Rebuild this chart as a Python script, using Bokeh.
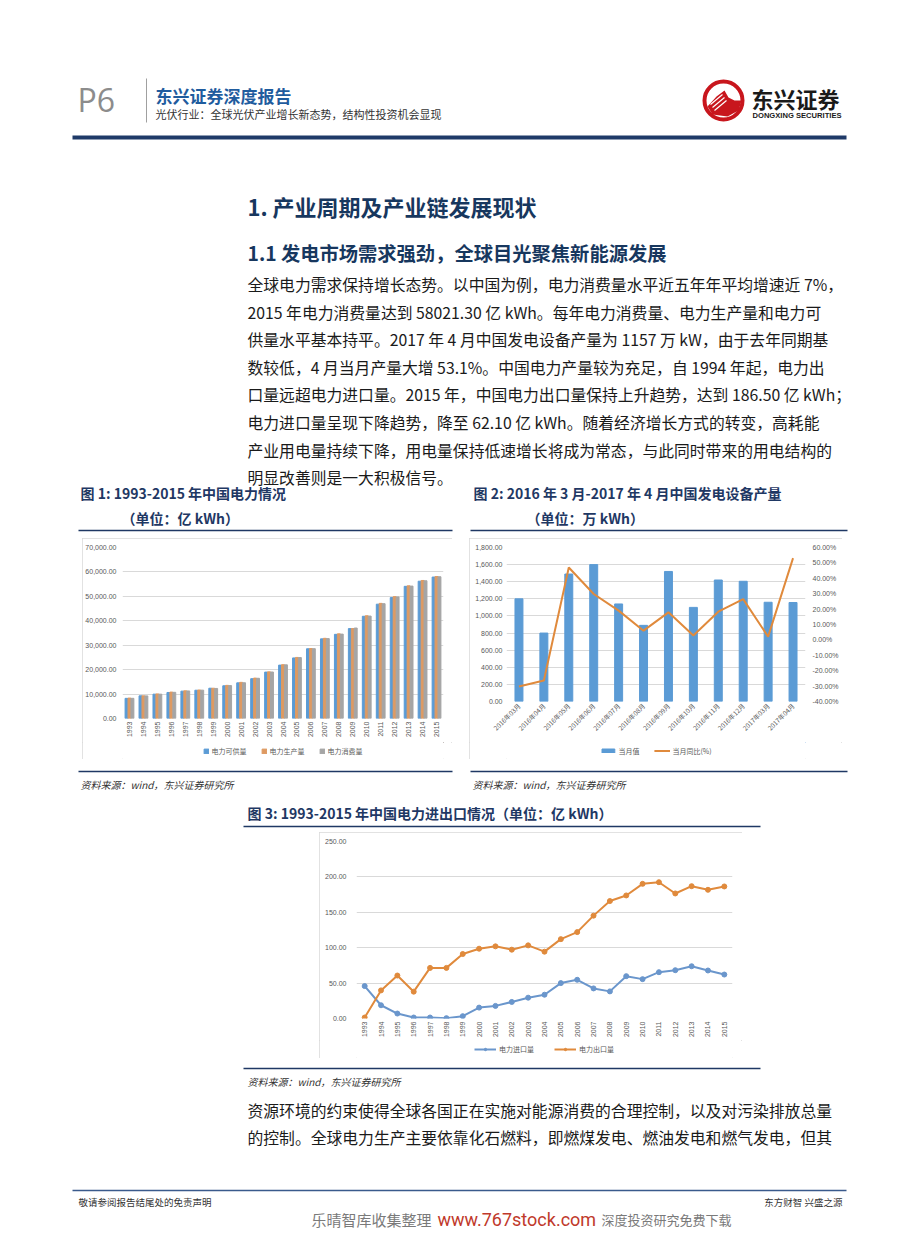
import math
from bokeh.plotting import figure
from bokeh.models import (Range1d, FactorRange, LinearAxis, NumeralTickFormatter,
                          PrintfTickFormatter, Legend, LegendItem, Spacer, FixedTicker,
                          ColumnDataSource)
from bokeh.layouts import column, row
from bokeh.transform import dodge
from bokeh.core.properties import value
from bokeh.embed import file_html
from bokeh.resources import INLINE

CJK = "Noto Sans CJK SC"
NUM = "Liberation Sans"

# ---------------- data ----------------
years = [str(y) for y in range(1993, 2016)]
supply = [8250, 9280, 9960, 10650, 11200, 11580, 12400, 13400, 14600, 16300, 19000, 21850,
          24800, 28550, 32600, 34450, 36800, 41850, 46800, 49500, 54100, 56200, 57900]
production = [8364, 9280, 10070, 10810, 11340, 11670, 12390, 13560, 14800, 16540, 19100, 22030,
              25000, 28650, 32820, 34670, 36810, 42070, 47130, 49880, 54320, 56500, 58110]
consumption = [8260, 9250, 9960, 10720, 11280, 11600, 12300, 13470, 14630, 16470, 19030, 21970,
               24940, 28590, 32710, 34540, 37030, 41930, 47000, 49760, 54200, 56380, 58021.3]
series1_names = ["电力可供量", "电力生产量", "电力消费量"]

months = ["2016年03月", "2016年04月", "2016年05月", "2016年06月", "2016年07月", "2016年08月",
          "2016年09月", "2016年10月", "2016年11月", "2016年12月", "2017年03月", "2017年04月"]
month_output = [1200, 800, 1490, 1600, 1140, 890, 1520, 1100, 1420, 1405, 1160, 1157]
month_yoy = [-30.3, -26.4, 47.0, 29.8, 19.0, 6.0, 17.9, 2.8, 18.3, 26.5, 2.1, 53.1]
series2_names = ["当月值", "当月同比(%)"]

imports = [45.8, 18.7, 7.0, 1.4, 1.4, 0.5, 3.3, 15.4, 17.8, 23.4, 29.4, 33.6, 50.0, 54.7,
           42.5, 38.3, 59.8, 55.6, 65.4, 68.2, 73.8, 67.8, 62.1]
exports = [1.4, 39.7, 60.7, 37.9, 71.5, 71.5, 91.1, 98.6, 101.9, 97.2, 103.3, 94.4, 112.1,
           122.0, 145.3, 165.9, 173.8, 190.2, 192.5, 176.6, 186.9, 181.8, 186.5]
series3_names = ["电力进口量", "电力出口量"]

BAR_BLUE = "#5B9BD5"
BLUE = "#6A96CC"
ORANGE = "#E08A3C"
BAR_ORANGE = "#DE9A62"
GRAY = "#A5A5A5"
NAVY = "#1F3864"
BORDER = {"outline": "1px solid #D9D9D9", "outline-offset": "-1px"}
PAGE_W = 912


# ---------------- helpers ----------------
def strip(y0, y1):
    p = figure(width=PAGE_W, height=int(y1 - y0), x_range=Range1d(0, PAGE_W),
               y_range=Range1d(y1, y0), output_backend="svg", toolbar_location=None,
               x_axis_location=None, y_axis_location=None, min_border=0)
    p.grid.grid_line_color = None
    p.outline_line_color = None
    return p


def txt(p, x, y, s, size, color="#222222", style="normal", align="left", font=CJK):
    p.text(x=[x], y=[y], text=[s], text_font=value(font), text_font_size=f"{size}px",
           text_color=color, text_align=align, text_baseline="middle", text_font_style=style)


def hline(p, x0, x1, y, color=NAVY, width=1.5):
    p.segment(x0=[x0], y0=[y], x1=[x1], y1=[y], line_color=color, line_width=width)


def style_axis(ax, size="7px", color="#595959", font=NUM, standoff=5):
    ax.axis_line_color = None
    ax.major_tick_line_color = None
    ax.minor_tick_line_color = None
    ax.major_tick_out = 0
    ax.major_tick_in = 0
    ax.major_label_text_font_size = size
    ax.major_label_text_color = color
    ax.major_label_text_font = font
    ax.major_label_standoff = standoff


def legend_fig(width, height, entries, gw=6, gh=6, spacing=14):
    # a strip holding only the legend; its sample glyphs sit outside the visible range
    lf = figure(width=width, height=height, x_range=Range1d(0, 1), y_range=Range1d(0, 1),
                output_backend="svg", toolbar_location=None, x_axis_location=None,
                y_axis_location=None, min_border=0)
    lf.grid.grid_line_color = None
    lf.outline_line_color = None
    items = []
    for label, kind, color in entries:
        if kind == "bar":
            rs = [lf.vbar(x=[5], top=[5], bottom=[4], width=0.1, color=color)]
        elif kind == "line":
            rs = [lf.line(x=[5, 6], y=[5, 5], line_color=color, line_width=2)]
        else:
            rs = [lf.line(x=[5, 6], y=[5, 5], line_color=color, line_width=2),
                  lf.scatter(x=[5], y=[5], size=5, color=color)]
        items.append(LegendItem(label=label, renderers=rs))
    lg = Legend(items=items, location="center", orientation="horizontal")
    lg.border_line_color = None
    lg.background_fill_alpha = 0
    lg.margin = 0
    lg.padding = 2
    lg.spacing = spacing
    lg.label_text_font = CJK
    lg.label_text_font_size = "7px"
    lg.label_text_color = "#595959"
    lg.label_height = 8
    lg.label_standoff = 3
    lg.glyph_height = gh
    lg.glyph_width = gw
    lf.add_layout(lg)
    return lf


# ---------------- segment A : header, text, chart titles ----------------
top = strip(0, 538)
txt(top, 77, 99, "P6", 32, color="#8C8C8C", font="Open Sans")
top.segment(x0=[146], y0=[78], x1=[146], y1=[122], line_color="#A0A0A0", line_width=1)
txt(top, 155, 95, "东兴证券深度报告", 17, color="#1F5C9E", style="bold")
txt(top, 155, 113, "光伏行业：全球光伏产业增长新态势，结构性投资机会显现", 11, color="#333333")

# logo
top.circle(x=[723], y=[100], radius=19, fill_color=None, line_color="#C8161D", line_width=4)
top.patch(x=[707, 716, 724, 728, 734, 741, 738, 727, 712],
          y=[106, 96, 90, 97, 100, 100, 110, 116, 114], fill_color="#C8161D", line_color=None)
top.segment(x0=[710, 712, 714], y0=[104, 107, 110], x1=[722, 724, 726], y1=[94, 97, 100],
            line_color="white", line_width=1.2)
txt(top, 751, 97, "东兴证券", 22, color="#1A1A1A", style="bold")
txt(top, 752, 115, "DONGXING SECURITIES", 7.6, color="#1A1A1A", style="bold", font=NUM)

hline(top, 72, 846, 137, color="#1F3A68", width=4)

txt(top, 247, 205, "1. 产业周期及产业链发展现状", 22, color="#17375E", style="bold")
txt(top, 247, 252, "1.1 发电市场需求强劲，全球目光聚焦新能源发展", 19.3, color="#17375E",
    style="bold")

para1 = [
    "全球电力需求保持增长态势。以中国为例，电力消费量水平近五年年平均增速近 7%，",
    "2015 年电力消费量达到 58021.30 亿 kWh。每年电力消费量、电力生产量和电力可",
    "供量水平基本持平。2017 年 4 月中国发电设备产量为 1157 万 kW，由于去年同期基",
    "数较低，4 月当月产量大增 53.1%。中国电力产量较为充足，自 1994 年起，电力出",
    "口量远超电力进口量。2015 年，中国电力出口量保持上升趋势，达到 186.50 亿 kWh；",
    "电力进口量呈现下降趋势，降至 62.10 亿 kWh。随着经济增长方式的转变，高耗能",
    "产业用电量持续下降，用电量保持低速增长将成为常态，与此同时带来的用电结构的",
    "明显改善则是一大积极信号。",
]
for i, line in enumerate(para1):
    txt(top, 247, 284 + i * 27.6, line, 15.8, color="#1A1A1A")

txt(top, 80, 492, "图 1: 1993-2015 年中国电力情况", 14, color=NAVY, style="bold")
txt(top, 121, 517, "（单位：亿 kWh）", 14, color=NAVY, style="bold")
txt(top, 473, 492, "图 2: 2016 年 3 月-2017 年 4 月中国发电设备产量", 14, color=NAVY,
    style="bold")
txt(top, 526, 517, "（单位：万 kWh）", 14, color=NAVY, style="bold")
hline(top, 78, 452, 530)
hline(top, 470, 847, 530)

# ---------------- chart 1 ----------------
src1 = ColumnDataSource(dict(year=years, supply=supply, production=production,
                             consumption=consumption))
c1 = figure(width=370, height=204, x_range=FactorRange(*years), y_range=Range1d(0, 70000),
            output_backend="svg", toolbar_location=None, min_border_left=39,
            min_border_right=9, min_border_top=9, min_border_bottom=24)
c1.outline_line_color = None
c1.vbar(x=dodge("year", -0.21, range=c1.x_range), top="supply", width=0.21,
        source=src1, color=BAR_BLUE)
c1.vbar(x=dodge("year", 0.0, range=c1.x_range), top="production", width=0.21,
        source=src1, color=BAR_ORANGE)
c1.vbar(x=dodge("year", 0.21, range=c1.x_range), top="consumption", width=0.21,
        source=src1, color=GRAY)
c1.xgrid.grid_line_color = None
c1.ygrid.grid_line_color = "#D9D9D9"
c1.yaxis.ticker = FixedTicker(ticks=list(range(0, 70001, 10000)))
c1.yaxis.formatter = NumeralTickFormatter(format="0,0.00")
style_axis(c1.yaxis[0], standoff=6)
style_axis(c1.xaxis[0], standoff=3)
c1.xaxis.major_label_orientation = math.pi / 2
lf1 = legend_fig(370, 17, [(series1_names[0], "bar", BAR_BLUE),
                           (series1_names[1], "bar", BAR_ORANGE),
                           (series1_names[2], "bar", GRAY)])

# ---------------- chart 2 ----------------
src2 = ColumnDataSource(dict(month=months, output=month_output, yoy=month_yoy))
c2 = figure(width=373, height=204, x_range=FactorRange(*months), y_range=Range1d(0, 1800),
            output_backend="svg", toolbar_location=None, min_border_left=37,
            min_border_right=37, min_border_top=9, min_border_bottom=41)
c2.outline_line_color = None
c2.extra_y_ranges = {"pct": Range1d(-40, 60)}
c2.vbar(x="month", top="output", width=0.32, source=src2, color=BAR_BLUE)
c2.line(x="month", y="yoy", source=src2, y_range_name="pct", line_color=ORANGE, line_width=2)
ax2 = LinearAxis(y_range_name="pct", ticker=FixedTicker(ticks=list(range(-40, 61, 10))),
                 formatter=PrintfTickFormatter(format="%.2f%%"))
c2.add_layout(ax2, "right")
c2.xgrid.grid_line_color = None
c2.ygrid.grid_line_color = "#D9D9D9"
c2.yaxis[0].ticker = FixedTicker(ticks=list(range(0, 1801, 200)))
c2.yaxis[0].formatter = NumeralTickFormatter(format="0,0.00")
style_axis(c2.yaxis[0], standoff=4)
style_axis(ax2, standoff=7)
style_axis(c2.xaxis[0], size="6.5px", font=CJK, standoff=3)
c2.xaxis.major_label_orientation = math.pi / 4
lf2 = legend_fig(373, 17, [(series2_names[0], "bar", BAR_BLUE),
                           (series2_names[1], "line", ORANGE)], gw=16, gh=5)

# ---------------- segment C ----------------
mid = strip(759, 832)
hline(mid, 78, 452, 771)
hline(mid, 470, 847, 771)
txt(mid, 80, 784, "资料来源：wind，东兴证券研究所", 10, color="#333333", style="italic")
txt(mid, 472, 784, "资料来源：wind，东兴证券研究所", 10, color="#333333", style="italic")
txt(mid, 247, 812, "图 3: 1993-2015 年中国电力进出口情况（单位：亿 kWh）", 14, color=NAVY,
    style="bold")
hline(mid, 243, 760, 826)

# ---------------- chart 3 ----------------
src3 = ColumnDataSource(dict(year=years, imp=imports, exp=exports))
c3 = figure(width=423, height=208, x_range=FactorRange(*years), y_range=Range1d(0, 250),
            output_backend="svg", toolbar_location=None, min_border_left=37,
            min_border_right=10, min_border_top=9, min_border_bottom=21)
c3.outline_line_color = None
c3.line(x="year", y="imp", source=src3, line_color=BLUE, line_width=2)
c3.scatter(x="year", y="imp", source=src3, size=5, color=BLUE)
c3.line(x="year", y="exp", source=src3, line_color=ORANGE, line_width=2)
c3.scatter(x="year", y="exp", source=src3, size=5, color=ORANGE)
c3.xgrid.grid_line_color = None
c3.ygrid.grid_line_color = "#D9D9D9"
c3.yaxis.ticker = FixedTicker(ticks=list(range(0, 251, 50)))
c3.yaxis.formatter = NumeralTickFormatter(format="0.00")
style_axis(c3.yaxis[0], standoff=10)
style_axis(c3.xaxis[0], standoff=3)
c3.xaxis.major_label_orientation = math.pi / 2
lf3 = legend_fig(423, 18, [(series3_names[0], "linemarker", BLUE),
                           (series3_names[1], "linemarker", ORANGE)], gw=22, gh=6,
                 spacing=20)

# ---------------- segment E ----------------
bot = strip(1058, 1240)
hline(bot, 243, 760, 1068)
txt(bot, 247, 1081, "资料来源：wind，东兴证券研究所", 10, color="#333333", style="italic")
txt(bot, 247, 1110, "资源环境的约束使得全球各国正在实施对能源消费的合理控制，以及对污染排放总量",
    15.8, color="#1A1A1A")
txt(bot, 247, 1137, "的控制。全球电力生产主要依靠化石燃料，即燃煤发电、燃油发电和燃气发电，但其",
    15.8, color="#1A1A1A")
hline(bot, 72, 846, 1190, color="#3A5A8C", width=1.5)
txt(bot, 78, 1201, "敬请参阅报告结尾处的免责声明", 9.5, color="#333333")
txt(bot, 842, 1201, "东方财智 兴盛之源", 9.5, color="#333333", align="right")
txt(bot, 311, 1219, "乐晴智库收集整理", 15, color="#7A7A7A")
txt(bot, 437, 1219, "www.767stock.com", 18, color="#C0392B", font="Roboto")
txt(bot, 601, 1219, "深度投资研究免费下载", 13, color="#7A7A7A")

# ---------------- layout ----------------
layout = column(
    top,
    row(Spacer(width=82, height=221), column(c1, lf1, styles=BORDER),
        Spacer(width=17, height=221), column(c2, lf2, styles=BORDER),
        Spacer(width=70, height=221)),
    mid,
    row(Spacer(width=319, height=226), column(c3, lf3, styles=BORDER),
        Spacer(width=170, height=226)),
    bot,
)

open("out.html", "w").write(file_html(layout, INLINE))
